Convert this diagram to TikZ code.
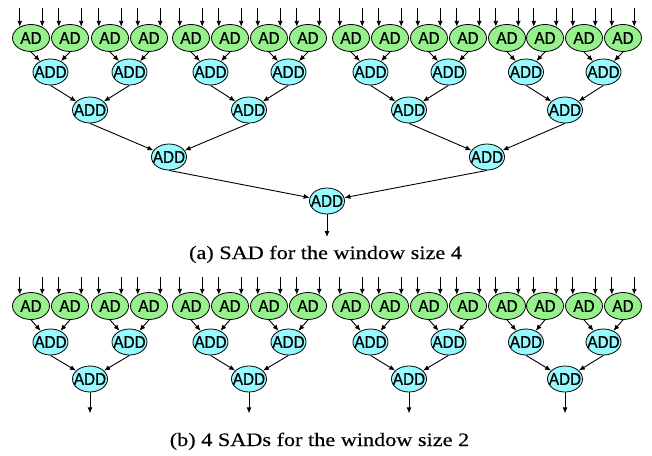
\documentclass[tikz,border=0pt]{standalone}
\usepackage{fontspec}
\setmainfont{Liberation Serif}
\newfontfamily\blockfont[FakeStretch=0.9,FakeBold=0.7]{Liberation Sans}
\newfontfamily\capfont[FakeStretch=1.17,FakeBold=0.3]{Liberation Serif}
\usetikzlibrary{arrows.meta,shapes.geometric}
\definecolor{adgreen}{RGB}{150,240,140}
\definecolor{addcyan}{RGB}{150,250,255}
\newcommand{\blk}[1]{\makebox[0pt]{#1}}
\tikzset{
	adnode/.style={ellipse,draw,line width=0.8pt,fill=adgreen,minimum width=37pt,minimum height=27pt,inner sep=0pt,font=\blockfont\fontsize{17}{18}\selectfont},
	addnode/.style={adnode,fill=addcyan,minimum width=35pt,minimum height=26pt},
	arr/.style={-{Latex[length=6pt,width=5pt]},line width=0.9pt},
	caption/.style={font=\capfont\fontsize{19}{22}\selectfont,anchor=base}
}
\begin{document}
\begin{tikzpicture}[x=1pt,y=-1pt]
	\useasboundingbox (0,0) rectangle (652,455);
	% (a) window size 4
	\foreach \x [count=\i] in {31,70,110,149,191,230,269,308,351,390,429,468,507,545,584,623}
		\node[adnode] (a-ad-\i) at (\x,38) {\blk{AD}};
	\foreach \x [count=\i] in {50.5,129.5,210.5,288.5,370.5,448.5,526,603.5}
		\node[addnode] (a-s1-\i) at (\x,72) {\blk{ADD}};
	\foreach \x [count=\i] in {90,249,409,565}
		\node[addnode] (a-s2-\i) at (\x,110) {\blk{ADD}};
	\foreach \x [count=\i] in {169,487}
		\node[addnode] (a-s3-\i) at (\x,157) {\blk{ADD}};
	\node[addnode] (a-s4) at (327,201) {\blk{ADD}};
	\coordinate (a-in) at (0,8);
	\coordinate (a-out) at (327,237);
	\foreach \i in {1,...,16} {
		\draw[arr] (a-ad-\i.135 |- a-in) -- (a-ad-\i.135);
		\draw[arr] (a-ad-\i.45 |- a-in) -- (a-ad-\i.45);
	}
	\foreach \j [evaluate=\j as \l using int(2*\j-1), evaluate=\j as \r using int(2*\j)] in {1,...,8} {
		\draw[arr] (a-ad-\l.south) -- (a-s1-\j);
		\draw[arr] (a-ad-\r.south) -- (a-s1-\j);
	}
	\foreach \j [evaluate=\j as \l using int(2*\j-1), evaluate=\j as \r using int(2*\j)] in {1,...,4} {
		\draw[arr] (a-s1-\l.south) -- (a-s2-\j);
		\draw[arr] (a-s1-\r.south) -- (a-s2-\j);
	}
	\foreach \j [evaluate=\j as \l using int(2*\j-1), evaluate=\j as \r using int(2*\j)] in {1,2} {
		\draw[arr] (a-s2-\l.south) -- (a-s3-\j);
		\draw[arr] (a-s2-\r.south) -- (a-s3-\j);
	}
	\draw[arr] (a-s3-1.south) -- (a-s4);
	\draw[arr] (a-s3-2.south) -- (a-s4);
	\draw[arr] (a-s4) -- (a-out);
	\node[caption] (cap-a) at (325.5,259) {(a) SAD for the window size 4};
	% (b) window size 2
	\foreach \x [count=\i] in {31,70,110,149,191,230,269,308,351,390,429,468,507,545,584,623}
		\node[adnode] (b-ad-\i) at (\x,306) {\blk{AD}};
	\foreach \x [count=\i] in {50.5,129.5,210.5,288.5,370.5,448.5,526,603.5}
		\node[addnode] (b-s1-\i) at (\x,342) {\blk{ADD}};
	\foreach \x [count=\i] in {90,249,409,565}
		\node[addnode] (b-s2-\i) at (\x,379) {\blk{ADD}};
	\coordinate (b-in) at (0,277);
	\foreach \i in {1,...,16} {
		\draw[arr] (b-ad-\i.135 |- b-in) -- (b-ad-\i.135);
		\draw[arr] (b-ad-\i.45 |- b-in) -- (b-ad-\i.45);
	}
	\foreach \j [evaluate=\j as \l using int(2*\j-1), evaluate=\j as \r using int(2*\j)] in {1,...,8} {
		\draw[arr] (b-ad-\l.south) -- (b-s1-\j);
		\draw[arr] (b-ad-\r.south) -- (b-s1-\j);
	}
	\foreach \j [evaluate=\j as \l using int(2*\j-1), evaluate=\j as \r using int(2*\j)] in {1,...,4} {
		\draw[arr] (b-s1-\l.south) -- (b-s2-\j);
		\draw[arr] (b-s1-\r.south) -- (b-s2-\j);
		\coordinate (b-out-\j) at ([yshift=-21pt]b-s2-\j.south);
		\draw[arr] (b-s2-\j) -- (b-out-\j);
	}
	\node[caption] (cap-b) at (319.5,446) {(b) 4 SADs for the window size 2};
\end{tikzpicture}
\end{document}
